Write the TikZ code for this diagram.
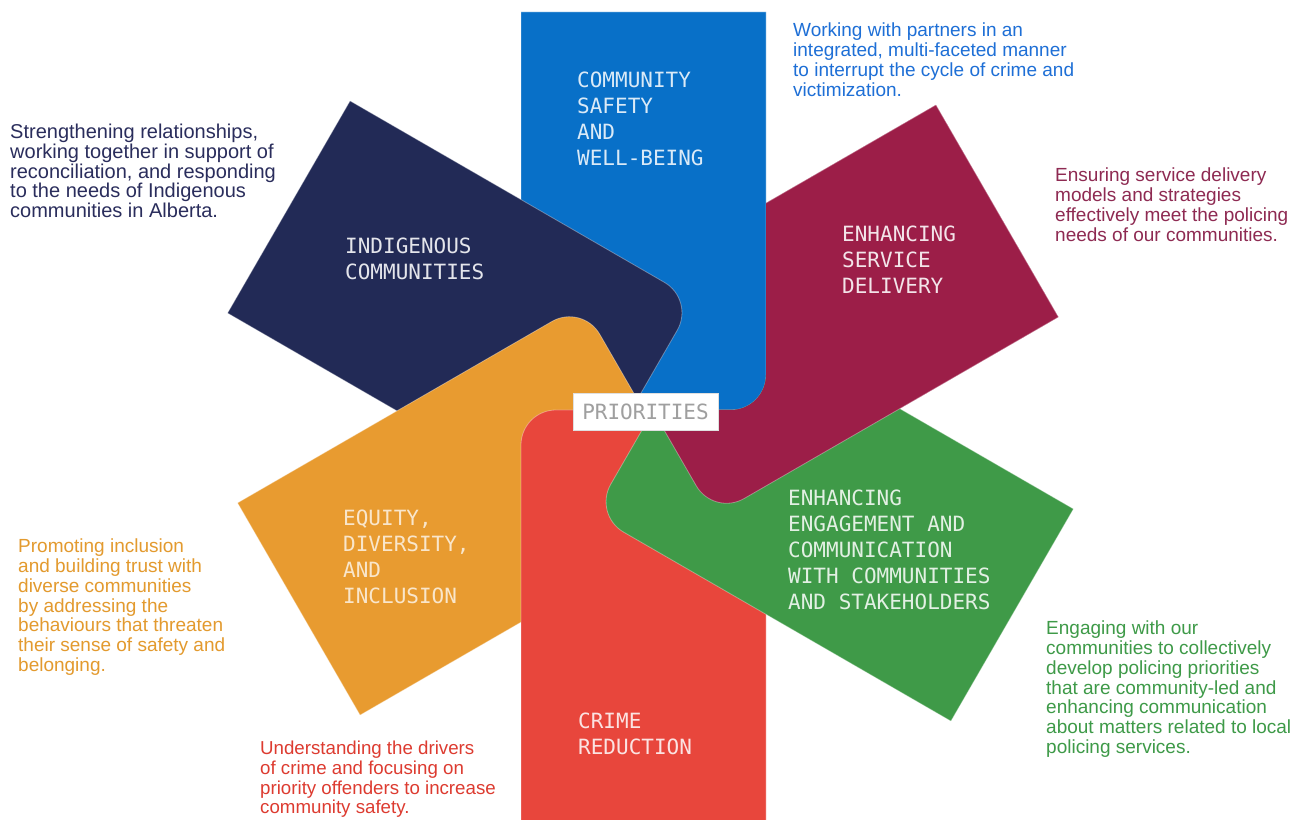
\documentclass[tikz,border=0pt]{standalone}
\usepackage{fontspec}
\setmainfont{Liberation Sans}
\newfontfamily\monof{DejaVu Sans Mono}
\definecolor{cblue}{HTML}{0870C8}
\definecolor{cnavy}{HTML}{222A56}
\definecolor{cmaroon}{HTML}{9C1E48}
\definecolor{cgreen}{HTML}{3F9A48}
\definecolor{cred}{HTML}{E8463C}
\definecolor{corange}{HTML}{E89B30}
\definecolor{tnavy}{HTML}{2A2D5C}
\definecolor{tblue}{HTML}{1E6FD6}
\definecolor{tmaroon}{HTML}{8E2A52}
\definecolor{torange}{HTML}{E39A2E}
\definecolor{tred}{HTML}{DD3B30}
\definecolor{tgreen}{HTML}{3E9A48}
\tikzset{
  petal/.style={insert path={(-122.5,0) -- (-122.5,#1) -- (122.5,#1) -- (122.5,35) arc[start angle=0,end angle=-90,radius=35pt] -- cycle}},
  petalfill/.style={fill=#1, draw=white, draw opacity=0.35, line width=0.8pt},
  plabel/.style={font=\monof\fontsize{21}{26}\selectfont, anchor=north west, align=left, inner sep=0pt},
  desc/.style={font=\fontsize{19}{19.7}\selectfont, anchor=north west, align=left, inner sep=0pt},
  outsideblue/.style={insert path={(-2000,0) -- (87.5,0) arc[start angle=-90,end angle=0,radius=35pt] -- (122.5,2000) -- (2000,2000) -- (2000,-2000) -- (-2000,-2000) -- cycle}}
}
\begin{document}
\begin{tikzpicture}[x=1pt,y=1pt]
\path[fill=white,use as bounding box] (0,0) rectangle (1306,819);
% maroon (bottom layer)
\begin{scope}[shift={(652.5,409)},rotate=-60]
  \path[petalfill=cmaroon, petal=398];
\end{scope}
% blue
\begin{scope}[shift={(643.5,409)}]
  \path[petalfill=cblue, petal=398];
\end{scope}
% navy
\begin{scope}[shift={(633.5,413)},rotate=60]
  \path[petalfill=cnavy, petal=398];
\end{scope}
% orange
\begin{scope}[shift={(643.5,409)},rotate=120]
  \path[petalfill=corange, petal=398];
\end{scope}
% red
\begin{scope}[shift={(643.5,409)},rotate=180]
  \path[petalfill=cred, petal=412];
\end{scope}
% green and maroon, only outside the blue petal
\begin{scope}
  \clip[shift={(643.5,409)}, outsideblue];
  \path[shift={(654.5,410.5)},rotate=-120, petalfill=cgreen, petal=413];
  \path[shift={(652.5,409)},rotate=-60, petalfill=cmaroon, petal=398];
\end{scope}

% petal labels
\node[plabel, text=cblue!15!white] (lblue) at (577,747) {COMMUNITY\\SAFETY\\AND\\WELL-BEING};
\node[plabel, text=cnavy!12!white] (lnavy) at (345,581) {INDIGENOUS\\COMMUNITIES};
\node[plabel, text=cmaroon!12!white] (lmaroon) at (842,593) {ENHANCING\\SERVICE\\DELIVERY};
\node[plabel, text=cgreen!15!white] (lgreen) at (788,329) {ENHANCING\\ENGAGEMENT AND\\COMMUNICATION\\WITH COMMUNITIES\\AND STAKEHOLDERS};
\node[plabel, text=corange!25!white] (lorange) at (343,309) {EQUITY,\\DIVERSITY,\\AND\\INCLUSION};
\node[plabel, text=cred!15!white] (lred) at (578,106) {CRIME\\REDUCTION};

% centre label
\node[fill=white, draw=gray!25, line width=0.5pt, minimum width=145pt, minimum height=37pt, inner sep=0pt,
      font=\monof\fontsize{21}{26}\selectfont, text=gray!75] (prio) at (645.5,407) {PRIORITIES};

% descriptions
\node[desc, text=tnavy, font=\fontsize{20}{19.7}\selectfont] (dnavy) at (10,695) {Strengthening relationships,\\working together in support of\\reconciliation, and responding\\to the needs of Indigenous\\communities in Alberta.};
\node[desc, text=tblue] (dblue) at (793,796) {Working with partners in an\\integrated, multi-faceted manner\\to interrupt the cycle of crime and\\victimization.};
\node[desc, text=tmaroon] (dmaroon) at (1055,651) {Ensuring service delivery\\models and strategies\\effectively meet the policing\\needs of our communities.};
\node[desc, text=torange] (dorange) at (18,280) {Promoting inclusion\\and building trust with\\diverse communities\\by addressing the\\behaviours that threaten\\their sense of safety and\\belonging.};
\node[desc, text=tred, font=\fontsize{18.7}{19.7}\selectfont] (dred) at (260,78) {Understanding the drivers\\of crime and focusing on\\priority offenders to increase\\community safety.};
\node[desc, text=tgreen] (dgreen) at (1046,198) {Engaging with our\\communities to collectively\\develop policing priorities\\that are community-led and\\enhancing communication\\about matters related to local\\policing services.};
\end{tikzpicture}
\end{document}
